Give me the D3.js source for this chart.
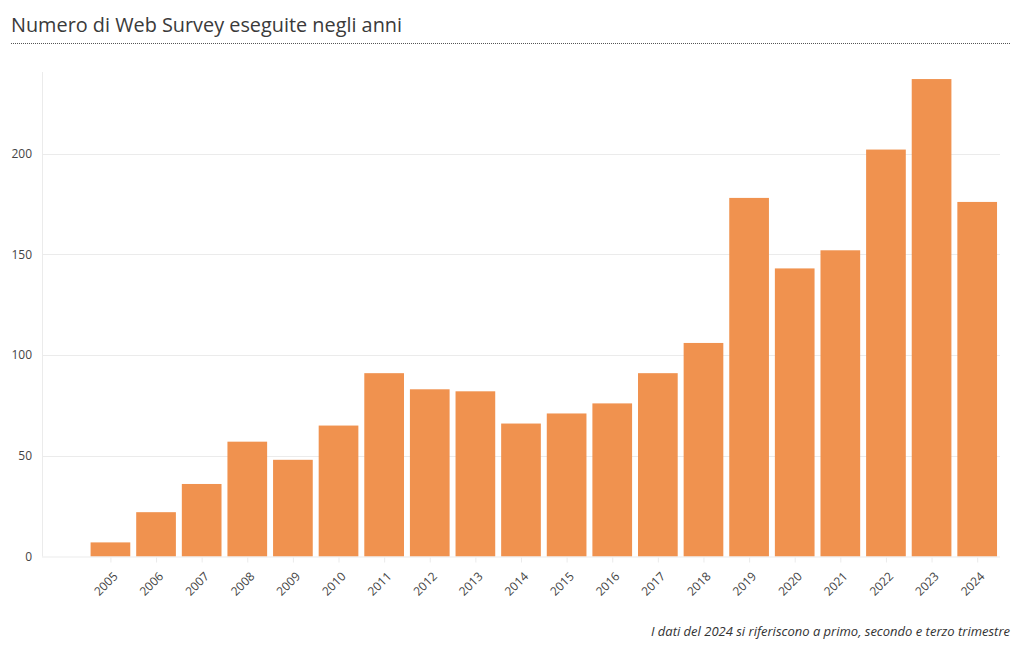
<!DOCTYPE html>
<html>
<head>
<meta charset="utf-8">
<script src="https://cdn.jsdelivr.net/npm/d3@7"></script>
<style>
  html, body { margin: 0; padding: 0; background: #fff; }
  svg { display: block; }
</style>
</head>
<body>
<svg id="chart" width="1020" height="650"></svg>
<script>
const years = [2005, 2006, 2007, 2008, 2009, 2010, 2011, 2012, 2013, 2014, 2015, 2016, 2017, 2018, 2019, 2020, 2021, 2022, 2023, 2024];
const surveys = [7, 22, 36, 57, 48, 65, 91, 83, 82, 66, 71, 76, 91, 106, 178, 143, 152, 202, 237, 176];
const yTicks = [0, 50, 100, 150, 200];
const titleText = "Numero di Web Survey eseguite negli anni";
const noteText = "I dati del 2024 si riferiscono a primo, secondo e terzo trimestre";

(function () {
const svg = d3.select("#chart");
const font = "'Open Sans', 'Noto Sans', sans-serif";
const mLeft = 42, mRight = 1000, mTop = 72, mBottom = 556.5;

const x = d3.scaleLinear().domain([2003.5, 2024.5]).range([mLeft, mRight]);
const bw = (x(1) - x(0)) * 0.87;
const y = d3.scaleLinear().domain([0, 240.5]).range([mBottom, mTop]);

// title
svg.append("text").attr("x", 11).attr("y", 32)
  .attr("font-family", font).attr("font-size", 20).attr("fill", "#3a3a3a")
  .attr("textLength", 391).attr("lengthAdjust", "spacingAndGlyphs")
  .text(titleText);
svg.append("line").attr("x1", 11).attr("x2", 1010).attr("y1", 43.5).attr("y2", 43.5)
  .attr("stroke", "#555").attr("stroke-width", 1).attr("stroke-dasharray", "1,1");

// grid
svg.append("g").selectAll("line").data(yTicks.filter(d => d > 0)).join("line")
  .attr("x1", mLeft).attr("x2", mRight)
  .attr("y1", d => Math.round(y(d)) + 0.5).attr("y2", d => Math.round(y(d)) + 0.5)
  .attr("stroke", "#ebebeb").attr("stroke-width", 1);

// left axis line
svg.append("line").attr("x1", mLeft + 0.5).attr("x2", mLeft + 0.5).attr("y1", mTop).attr("y2", mBottom)
  .attr("stroke", "#ebebeb");

// y axis
const yAxis = d3.axisLeft(y).tickValues(yTicks).tickSize(0).tickPadding(10);
const gy = svg.append("g").attr("transform", `translate(${mLeft},0)`).call(yAxis);
gy.select(".domain").remove();
gy.selectAll("text").attr("font-family", font).attr("font-size", 12).attr("fill", "#444");

// bars
svg.append("g").selectAll("rect").data(years).join("rect")
  .attr("x", (d) => x(d) - bw / 2)
  .attr("width", bw)
  .attr("y", (d, i) => y(surveys[i]))
  .attr("height", (d, i) => y(0) - y(surveys[i]))
  .attr("fill", "#f0924f");

// baseline
svg.append("line").attr("x1", mLeft).attr("x2", mRight).attr("y1", mBottom + 0.5).attr("y2", mBottom + 0.5)
  .attr("stroke", "#ebebeb");

// x axis
const xAxis = d3.axisBottom(x).tickValues(years).tickFormat(d3.format("d")).tickSize(5).tickPadding(3);
const gx = svg.append("g").attr("transform", `translate(0,${mBottom + 1})`).call(xAxis);
gx.select(".domain").remove();
gx.selectAll(".tick line").attr("stroke", "#ebebeb");
gx.selectAll("text")
  .attr("font-family", font).attr("font-size", 12).attr("fill", "#444")
  .attr("text-anchor", "end")
  .attr("dy", "0.35em")
  .attr("transform", "translate(-1,11) rotate(-45)");

// note
svg.append("text").attr("x", 1010).attr("y", 636)
  .attr("text-anchor", "end").attr("font-family", font).attr("font-style", "italic")
  .attr("font-size", 13).attr("fill", "#333")
  .text(noteText);
})();
</script>
</body>
</html>
